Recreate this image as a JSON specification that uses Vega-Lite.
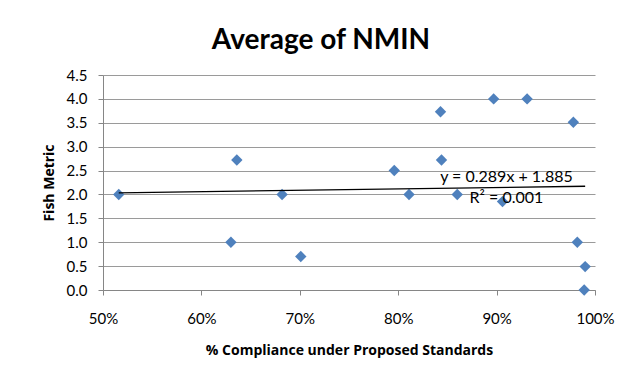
{
  "$schema": "https://vega.github.io/schema/vega-lite/v6.json",
  "width": 492,
  "height": 215,
  "autosize": {"type": "none"},
  "padding": {"left": 103, "top": 75, "right": 36, "bottom": 91},
  "background": "white",
  "title": {
    "text": "Average of NMIN",
    "font": "Lato",
    "fontSize": 28,
    "fontWeight": "bold",
    "color": "black",
    "anchor": "middle",
    "dx": -28,
    "offset": 13
  },
  "datasets": {
    "pts": [
      {"pct": 0.516, "metric": 2.0},
      {"pct": 0.630, "metric": 1.0},
      {"pct": 0.636, "metric": 2.72},
      {"pct": 0.682, "metric": 2.0},
      {"pct": 0.701, "metric": 0.7},
      {"pct": 0.796, "metric": 2.5},
      {"pct": 0.811, "metric": 2.0},
      {"pct": 0.843, "metric": 3.73},
      {"pct": 0.844, "metric": 2.72},
      {"pct": 0.860, "metric": 2.0},
      {"pct": 0.897, "metric": 4.0},
      {"pct": 0.906, "metric": 1.85},
      {"pct": 0.931, "metric": 4.0},
      {"pct": 0.978, "metric": 3.51},
      {"pct": 0.982, "metric": 1.0},
      {"pct": 0.990, "metric": 0.49},
      {"pct": 0.989, "metric": 0.0}
    ],
    "trend": [
      {"pct": 0.516, "metric": 2.034},
      {"pct": 0.990, "metric": 2.171}
    ],
    "notes": [
      {"pct": 0.91, "metric": 2.37, "label": "y = 0.289x + 1.885"},
      {"pct": 0.91, "metric": 1.93, "label": "R² = 0.001"}
    ]
  },
  "config": {
    "view": {"stroke": null},
    "font": "Lato",
    "axis": {
      "domainColor": "#868686",
      "tickColor": "#868686",
      "gridColor": "#9a9a9a",
      "labelColor": "black",
      "labelFont": "Lato",
      "labelFontSize": 15,
      "labelOverlap": false,
      "labelFlush": false,
      "titleFont": "Open Sans",
      "titleFontSize": 14,
      "titleFontWeight": "bold",
      "titleColor": "black"
    }
  },
  "encoding": {
    "x": {
      "field": "pct",
      "type": "quantitative",
      "scale": {"domain": [0.5, 1.0], "nice": false, "zero": false},
      "axis": {
        "title": "% Compliance  under Proposed Standards",
        "format": ".0%",
        "values": [0.5, 0.6, 0.7, 0.8, 0.9, 1.0],
        "grid": false,
        "tickSize": 5,
        "labelPadding": 16,
        "titlePadding": 17
      }
    },
    "y": {
      "field": "metric",
      "type": "quantitative",
      "scale": {"domain": [0, 4.5], "nice": false},
      "axis": {
        "title": "Fish Metric",
        "format": ".1f",
        "values": [0, 0.5, 1, 1.5, 2, 2.5, 3, 3.5, 4, 4.5],
        "grid": true,
        "tickSize": 5,
        "labelPadding": 11,
        "titlePadding": 10
      }
    }
  },
  "layer": [
    {
      "data": {"name": "pts"},
      "mark": {"type": "point", "shape": "diamond", "filled": true, "size": 130, "color": "#4F81BD", "opacity": 1}
    },
    {
      "data": {"name": "trend"},
      "mark": {"type": "line", "color": "black", "strokeWidth": 1.3}
    },
    {
      "data": {"name": "notes"},
      "mark": {"type": "text", "font": "Lato", "fontSize": 16, "color": "black", "align": "center", "baseline": "middle"},
      "encoding": {
        "text": {"field": "label"}
      }
    }
  ]
}
